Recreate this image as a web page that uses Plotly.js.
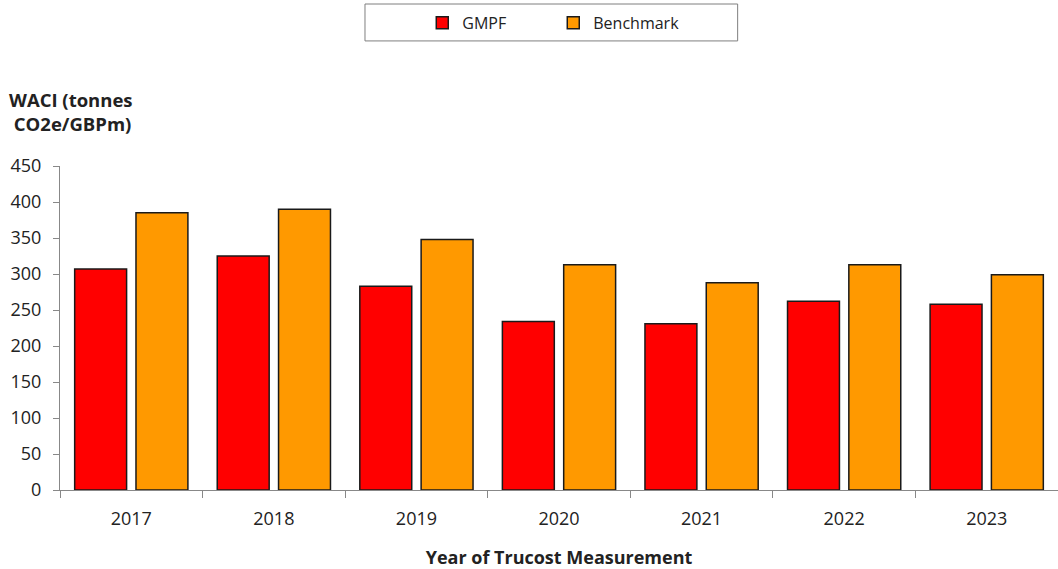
<!DOCTYPE html>
<html>
<head>
<meta charset="utf-8">
<script src="https://cdn.plot.ly/plotly-3.0.1.min.js"></script>
<style>
  html, body { margin: 0; padding: 0; background: #fff; }
  #chart { width: 1058px; height: 569px; }
</style>
</head>
<body>
<div id="chart"></div>
<script>
// Weighted average carbon intensity by measurement year
const years = ['2017', '2018', '2019', '2020', '2021', '2022', '2023'];
const gmpf = [307, 325, 283, 234, 231, 262, 258];
const benchmark = [385, 390, 348, 313, 288, 313, 299];
const yTicks = [0, 50, 100, 150, 200, 250, 300, 350, 400, 450];

const FONT = 'Open Sans, sans-serif';
const outline = { color: '#1a1a1a', width: 1.5 };

const traces = [
  { type: 'bar', name: 'GMPF', x: years, y: gmpf,
    marker: { color: '#ff0000', line: outline }, hoverinfo: 'x+y+name' },
  { type: 'bar', name: 'Benchmark', x: years, y: benchmark,
    marker: { color: '#ff9900', line: outline }, hoverinfo: 'x+y+name' }
];

const layout = {
  width: 1058, height: 569,
  margin: { l: 60, r: 0, t: 166, b: 79 },
  paper_bgcolor: '#fff', plot_bgcolor: '#fff',
  font: { family: FONT, size: 18, color: '#222' },
  barmode: 'group', bargap: 0.14, bargroupgap: 0.153,
  showlegend: true,
  legend: {
    orientation: 'h', x: 0.363, xanchor: 'left', y: 1.494, yanchor: 'top',
    font: { family: FONT, size: 16, color: '#222' },
    entrywidth: 86, bgcolor: 'rgba(0,0,0,0)', borderwidth: 0
  },
  xaxis: {
    type: 'category', tickson: 'boundaries', ticks: 'outside', ticklen: 7,
    tickcolor: '#888', showline: true, linecolor: '#888', linewidth: 1,
    showgrid: false, zeroline: false, ticklabelstandoff: 12,
    tickfont: { family: FONT, size: 18, color: '#222' },
    title: { text: 'Year of Trucost Measurement', standoff: 22,
      font: { family: FONT, size: 18, color: '#222', weight: 'bold' } }
  },
  yaxis: {
    range: [0, 450], tickvals: yTicks, ticktext: yTicks.map(String),
    ticks: 'outside', ticklen: 6, tickcolor: '#888',
    showline: true, linecolor: '#888', linewidth: 1,
    showgrid: false, zeroline: false, ticklabelstandoff: 8,
    tickfont: { family: FONT, size: 18, color: '#222' }
  },
  annotations: [{
    text: '<b>WACI (tonnes<br> CO2e/GBPm)</b>', xref: 'paper', yref: 'paper',
    x: -0.053, xanchor: 'left', y: 1.168, yanchor: 'middle', align: 'left',
    showarrow: false, font: { family: FONT, size: 18.5, color: '#222' }
  }],
  shapes: [{
    type: 'rect', xref: 'paper', yref: 'paper',
    x0: 0.3056, x1: 0.679, y0: 1.386, y1: 1.5,
    line: { color: '#7f7f7f', width: 1 }, fillcolor: 'rgba(0,0,0,0)'
  }]
};

Plotly.newPlot('chart', traces, layout, { displayModeBar: false, staticPlot: true });
</script>
</body>
</html>
